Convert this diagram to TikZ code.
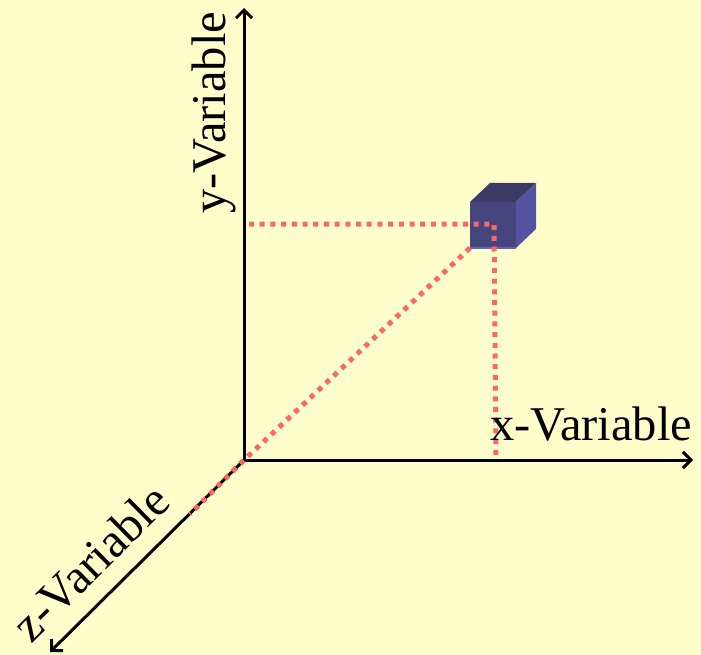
\documentclass[tikz,border=0pt]{standalone}
\usepackage{fontspec}
\setmainfont{Liberation Serif}
\usetikzlibrary{arrows.meta}
\definecolor{bg}{HTML}{FFFFCC}
\definecolor{dotred}{HTML}{FF6666}
\definecolor{cubefront}{HTML}{46467E}
\definecolor{cubetop}{HTML}{3B3B66}
\definecolor{cuberight}{HTML}{5454A0}
\definecolor{cubeedge}{HTML}{6464B4}
\tikzset{
  axis/.style={line width=3pt, -{Straight Barb[length=8pt,width=16pt,line width=3pt]}},
  guide/.style={dotred, line width=5pt, dash pattern=on 5pt off 5.7pt},
  lbl/.style={font=\fontsize{48.5}{52}\selectfont, inner sep=0pt, text=black}
}
\begin{document}
\begin{tikzpicture}[x=1pt,y=-1pt]
\fill[bg] (0,0) rectangle (701,655);
\useasboundingbox (0,0) rectangle (701,655);
% axes points
\coordinate (O) at (244,460);
\coordinate (Y) at (244,8);
\coordinate (X) at (693,460);
\coordinate (Z) at (50,652);
% guide points
\coordinate (hA) at (249,224);
\coordinate (hB) at (494,224);
\coordinate (vB) at (496,460);
\coordinate (dA) at (470,248);
\coordinate (dB) at (190,514);
% axes
\draw[axis] (O) -- (Y);
\draw[axis] (O) -- (X);
\draw[axis] (O) -- (Z);
% dotted guides
\draw[guide] (hA) -- (hB) -- (vB);
\draw[guide] (dA) -- (O) -- (dB);
% cube
\coordinate (f1) at (470,202);
\coordinate (f2) at (516,202);
\coordinate (f3) at (516,248);
\coordinate (f4) at (470,248);
\coordinate (b1) at (490,183);
\coordinate (b2) at (536,183);
\coordinate (b3) at (536,229);
\fill[cubefront] (f1) -- (f2) -- (f3) -- (f4) -- cycle;
\fill[cubetop] (f1) -- (b1) -- (b2) -- (f2) -- cycle;
\fill[cuberight] (f2) -- (b2) -- (b3) -- (f3) -- cycle;
\draw[cubeedge, line width=1.2pt] (f4) -- (f3);
% guide dots visible over the cube front
\begin{scope}
\clip (f1) -- (f2) -- (f3) -- (f4) -- cycle;
\draw[guide] (hA) -- (hB) -- (vB);
\draw[guide] (dA) -- (O);
\end{scope}
% labels
\node[lbl, anchor=base west] (xl) at (490,440) {x-Variable};
\node[lbl, anchor=base west, rotate=90] (yl) at (225,214) {y-Variable};
\node[lbl, anchor=base, rotate=44.7] (zl) at (102,574) {z-Variable};
\end{tikzpicture}
\end{document}
